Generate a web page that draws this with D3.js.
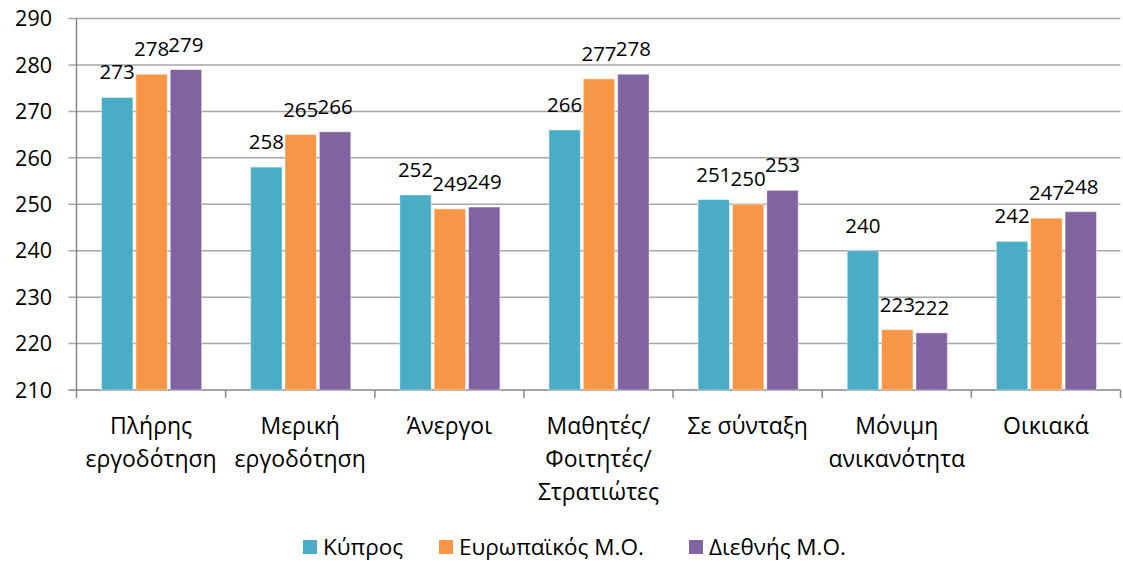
<!DOCTYPE html>
<html lang="el">
<head>
<meta charset="UTF-8">
<title>Bar chart</title>
<script src="https://d3js.org/d3.v7.min.js"></script>
<style>
  html, body { margin: 0; padding: 0; background: #fff; }
  svg { display: block; }
  text { font-family: 'Open Sans', sans-serif; font-size: 20.5px; fill: #000; }
  .tick-label { font-size: 21.5px; }
  .cat-label { font-size: 23px; }
  .legend-label { font-size: 22.5px; }
</style>
</head>
<body>
<script>
  // data
  const categories = [
    "Πλήρης\nεργοδότηση",
    "Μερική\nεργοδότηση",
    "Άνεργοι",
    "Μαθητές/\nΦοιτητές/\nΣτρατιώτες",
    "Σε σύνταξη",
    "Μόνιμη\nανικανότητα",
    "Οικιακά"
  ];
  const seriesNames = ["Κύπρος", "Ευρωπαϊκός Μ.Ο.", "Διεθνής Μ.Ο."];
  const cyprus   = [273, 258, 252, 266, 251, 240, 242];
  const europe   = [278, 265, 249, 277, 250, 223, 247];
  const intl     = [279, 265.6, 249.4, 278, 253, 222.3, 248.4];
  const yTicks   = [210, 220, 230, 240, 250, 260, 270, 280, 290];
  const colors   = ["#4bacc6", "#f79646", "#8064a2"];

  const seriesValues = [cyprus, europe, intl];

  const W = 1123, H = 563;
  const mLeft = 76.5, mRight = 1120.5, mTop = 18.5, mBottom = 390;

  const svg = d3.select("body").append("svg")
    .attr("width", W)
    .attr("height", H);

  const y = d3.scaleLinear().domain([210, 290]).range([mBottom, mTop]);
  const x0 = d3.scaleBand().domain(d3.range(categories.length)).range([mLeft, mRight]).padding(0);
  const x1 = d3.scaleBand().domain(d3.range(seriesNames.length))
    .range([25, x0.bandwidth() - 24])
    .paddingInner(0.086).paddingOuter(0);

  // gridlines + left ticks
  svg.append("g").selectAll("line")
    .data(yTicks)
    .enter().append("line")
    .attr("x1", mLeft - 8)
    .attr("x2", mRight)
    .attr("y1", d => y(d))
    .attr("y2", d => y(d))
    .attr("stroke", d => d === 210 ? "#868686" : "#a6a6a6")
    .attr("stroke-width", 1.5);

  // y tick labels
  svg.append("g").selectAll("text")
    .data(yTicks)
    .enter().append("text")
    .attr("class", "tick-label")
    .attr("x", 52)
    .attr("y", d => y(d))
    .attr("dy", "0.36em")
    .attr("text-anchor", "end")
    .text(d => d);

  // y axis line
  svg.append("line")
    .attr("x1", mLeft).attr("x2", mLeft)
    .attr("y1", mTop).attr("y2", mBottom + 8)
    .attr("stroke", "#868686").attr("stroke-width", 1.5);

  // category ticks
  const sep = d3.range(categories.length + 1).map(i => mLeft + i * x0.step());
  svg.append("g").selectAll("line")
    .data(sep.slice(1))
    .enter().append("line")
    .attr("x1", d => d).attr("x2", d => d)
    .attr("y1", mBottom).attr("y2", mBottom + 8)
    .attr("stroke", "#868686").attr("stroke-width", 1.5);

  // bars
  const groups = svg.append("g").selectAll("g")
    .data(categories)
    .enter().append("g")
    .attr("transform", (d, i) => `translate(${x0(i)},0)`);

  groups.each(function(c, ci) {
    const g = d3.select(this);
    seriesValues.forEach((vals, si) => {
      const v = vals[ci];
      g.append("rect")
        .attr("x", x1(si))
        .attr("y", y(v))
        .attr("width", x1.bandwidth())
        .attr("height", mBottom - y(v))
        .attr("fill", colors[si])
        .attr("stroke", "rgba(255,255,255,0.45)")
        .attr("stroke-width", 1);
      g.append("text")
        .attr("x", x1(si) + x1.bandwidth() / 2)
        .attr("y", y(v) - 18)
        .attr("text-anchor", "middle")
        .text(Math.round(v));
    });
  });

  // category labels
  const catLabels = svg.append("g").selectAll("text")
    .data(categories)
    .enter().append("text")
    .attr("class", "cat-label")
    .attr("text-anchor", "middle")
    .attr("x", (d, i) => x0(i) + x0.bandwidth() / 2)
    .attr("y", 434);
  catLabels.each(function(d) {
    const t = d3.select(this);
    const x = t.attr("x");
    d.split("\n").forEach((line, li) => {
      t.append("tspan").attr("x", x).attr("dy", li === 0 ? 0 : 33).text(line);
    });
  });

  // legend
  const legendX = [303, 439, 689];
  const legend = svg.append("g").selectAll("g")
    .data(seriesNames)
    .enter().append("g")
    .attr("transform", (d, i) => `translate(${legendX[i]},540)`);
  legend.append("rect")
    .attr("width", 14).attr("height", 14)
    .attr("fill", (d, i) => colors[i]);
  legend.append("text")
    .attr("class", "legend-label")
    .attr("x", 20).attr("y", 15)
    .text(d => d);
</script>
</body>
</html>
